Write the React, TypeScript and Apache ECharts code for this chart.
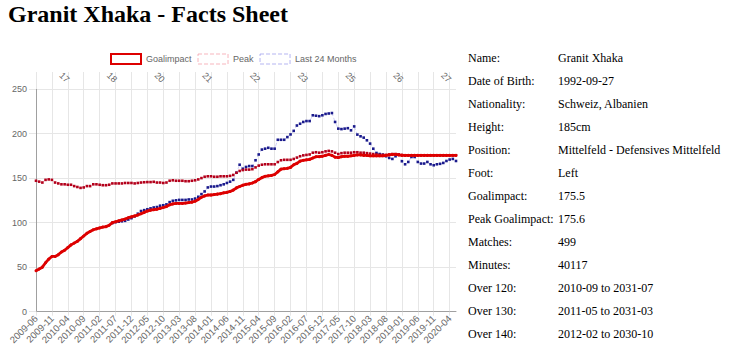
import React, { useEffect, useRef } from "react";
import * as echarts from "echarts";

// ---------- data ----------
const startYear = 2009;
const startMonth = 6; // 2009-06
const monthCount = 133;
const months: string[] = [];
for (let i = 0; i < monthCount; i++) {
  const m = startMonth - 1 + i;
  const y = startYear + Math.floor(m / 12);
  const mm = (m % 12) + 1;
  months.push(`${y}-${mm < 10 ? "0" + mm : mm}`);
}

const ageLabels = ["17", "18", "20", "21", "22", "23", "25", "26", "27"];
const ageLabelIndex = [10, 25, 40, 55, 70, 85, 100, 115, 130];

const goalimpact = [
  46, 48, 50, 55, 59, 62, 62, 64, 67, 69,
  72, 75, 77, 79, 82, 85, 88, 90, 92, 93,
  94, 95, 95.5, 97, 100, 101, 102, 103, 104, 105.5,
  106.5, 107.5, 108.5, 110, 111.5, 113, 114, 114.5, 115, 116,
  117, 118, 120, 121, 121.5, 121.5, 121.5, 122, 122.5, 123,
  124, 126, 128.5, 130, 131, 131, 131.5, 132, 132.5, 133.5,
  134, 135, 136.5, 139, 140.5, 142, 143, 143.5, 144.5, 146,
  148.5, 150.5, 152, 152.5, 153, 154, 157, 160, 160.5, 161,
  162, 165, 166.5, 169, 170, 170.5, 171, 172.5, 174, 174,
  174.5, 175.5, 176.5, 175.5, 173.5, 173, 174, 174.5, 174.5, 175,
  175.5, 176, 176, 175.5, 175.5, 175, 175, 175, 175, 175,
  175.5, 176, 176.5, 176.5, 176, 175.5, 175.5, 175.5, 175.5, 175.5,
  175.5, 175.5, 175.5, 175.5, 175.5, 175.5, 175.5, 175.5, 175.5, 175.5,
  175.5, 175.5, 175.5,
];

const peak = [
  147, 146, 145, 148, 148.5, 148, 145, 144, 143, 143,
  142.5, 142.5, 141, 140, 139, 139.5, 141, 141, 143, 143,
  142.5, 142, 142, 142.5, 144, 144, 144, 144, 144.5, 144.5,
  144.5, 144, 144.5, 145, 145.3, 145.5, 145.5, 145.8, 145, 145,
  144.5, 145, 147, 147.5, 147, 147, 147, 146.5, 146.5, 147,
  147.5, 148.5, 150, 151.5, 152, 152, 151.5, 151.5, 152, 152,
  152, 152.5, 153.5, 156, 158, 159, 159.5, 159.5, 160, 162,
  164, 165, 165.5, 165.5, 165.5, 165.5, 168, 170, 170.5, 170.5,
  170.5, 171.5, 173, 174.5, 175.5, 176, 176.5, 178.5, 179, 178.5,
  179, 180, 180.5, 180, 178.5, 177, 178, 178.5, 178.5, 178.5,
  179, 179, 178.5, 178.5, 178, 177.5, 177, 176.5, 176, 176,
  176, 176.5, 177, 177, 176.5, 176, 175.6, 175.6, 175.6, 175.6,
  175.6, 175.6, 175.6, 175.6, 175.6, 175.6, 175.6, 175.6, 175.6, 175.6,
  175.6, 175.6, 175.6,
];

const last24 = [
  null, null, null, null, null, null, null, null, null, null,
  null, null, null, null, null, null, null, null, null, null,
  null, null, null, null, 99.5, 100.5, 101, 101.5, 102, 103.5,
  105, 107, 110, 113, 114, 115, 116, 117, 117.5, 119,
  119.5, 120.5, 123, 124.5, 125, 125.5, 125.5, 125.5, 126, 126,
  127, 129, 132, 135, 139.5, 140.5, 140.5, 141, 142, 143,
  144.5, 146, 148, 156, 165, 160.5, 162.5, 163.5, 163.5, 170,
  176.5, 182, 183, 184, 183, 183, 193, 193, 193, 196,
  199, 203, 209, 211, 213, 214, 214, 220.5, 220, 219.5,
  220.5, 222, 222.5, 223, 213, 205.5, 205, 205.5, 206, 203.6,
  208, 198.8, 196.9, 195.4, 192.4, 188.7, 183, 178.2, 177, 176.4,
  174.5, 172.6, 171.5, 174.5, 176.4, 168.9, 165.5, 168.1, 173.7, 173.7,
  168.1, 166.3, 166.3, 168.1, 165.5, 164.4, 165.5, 166, 167, 169.2,
  170.8, 171.5, 169.2,
];

const factLabels = [
  "Name:", "Date of Birth:", "Nationality:", "Height:", "Position:", "Foot:",
  "Goalimpact:", "Peak Goalimpact:", "Matches:", "Minutes:", "Over 120:", "Over 130:", "Over 140:",
];
const factValues = [
  "Granit Xhaka", "1992-09-27", "Schweiz, Albanien", "185cm",
  "Mittelfeld - Defensives Mittelfeld", "Left", "175.5", "175.6", "499", "40117",
  "2010-09 to 2031-07", "2011-05 to 2031-03", "2012-02 to 2030-10",
];

const titleText = "Granit Xhaka - Facts Sheet";

// ---------- styles ----------
const SANS = "'Liberation Sans', Arial, sans-serif";
const SERIF = "'Liberation Serif', 'Times New Roman', serif";
const GRID_COLOR = "#e6e6e6";
const AXIS_COLOR = "#a0a0a0";
const LABEL_COLOR = "#666";

export default function App() {
  const ref = useRef<HTMLDivElement | null>(null);

  useEffect(() => {
    if (!ref.current) return;
    const chart = echarts.init(ref.current, undefined, { renderer: "svg" });

    const graphics: any[] = [
      {
        type: "text",
        left: 8,
        top: 2,
        style: {
          text: titleText,
          font: `bold 24px ${SERIF}`,
          fill: "#000",
        },
      },
    ];
    factLabels.forEach((lab, k) => {
      const y = 57.7 + 23.03 * k;
      graphics.push({
        type: "text",
        x: 468,
        y,
        style: { text: lab, font: `12px ${SERIF}`, fill: "#000", verticalAlign: "middle", align: "left" },
      });
      graphics.push({
        type: "text",
        x: 558,
        y,
        style: { text: factValues[k], font: `12px ${SERIF}`, fill: "#000", verticalAlign: "middle", align: "left" },
      });
    });

    chart.setOption({
      animation: false,
      backgroundColor: "#fff",
      textStyle: { fontFamily: SANS },
      legend: {
        left: 110,
        top: 53,
        padding: 0,
        icon: "rect",
        itemWidth: 30,
        itemHeight: 10,
        itemGap: 6,
        textStyle: { fontSize: 9, color: LABEL_COLOR, fontFamily: SANS },
        data: [
          { name: "Goalimpact", itemStyle: { color: "#fff", borderColor: "#dd0000", borderWidth: 2 } },
          { name: "Peak", itemStyle: { color: "#fff", borderColor: "rgba(240,120,135,0.55)", borderWidth: 1, borderType: "dashed" } },
          { name: "Last 24 Months", itemStyle: { color: "#fff", borderColor: "rgba(120,120,230,0.55)", borderWidth: 1, borderType: "dashed" } },
        ],
      },
      grid: { left: 36, right: 274, top: 89, bottom: 44.3, containLabel: false },
      xAxis: [
        {
          type: "category",
          data: months,
          boundaryGap: false,
          position: "bottom",
          axisLine: { lineStyle: { color: AXIS_COLOR, width: 1 } },
          axisTick: { show: true, interval: 4, length: 4, lineStyle: { color: GRID_COLOR } },
          axisLabel: { interval: 4, rotate: 45, fontSize: 9.5, color: LABEL_COLOR, margin: 5, fontFamily: SANS },
          splitLine: { show: true, interval: 4, lineStyle: { color: GRID_COLOR } },
        },
        {
          type: "category",
          data: months,
          boundaryGap: false,
          position: "top",
          axisLine: { show: false },
          axisTick: { show: true, interval: 4, length: 17, lineStyle: { color: GRID_COLOR } },
          axisLabel: {
            interval: (index: number) => ageLabelIndex.indexOf(index) >= 0,
            formatter: (_v: string, index: number) => {
              const k = ageLabelIndex.indexOf(index);
              return k >= 0 ? ageLabels[k] : "";
            },
            rotate: 45,
            fontSize: 9,
            color: LABEL_COLOR,
            margin: 8,
            fontFamily: SANS,
          },
          splitLine: { show: false },
        },
      ],
      yAxis: {
        type: "value",
        min: 0,
        max: 250,
        interval: 50,
        axisLine: { show: true, lineStyle: { color: AXIS_COLOR } },
        axisTick: { show: true, length: 7, lineStyle: { color: GRID_COLOR } },
        axisLabel: { fontSize: 9, color: LABEL_COLOR, margin: 9, fontFamily: SANS },
        splitLine: { show: true, lineStyle: { color: GRID_COLOR } },
      },
      series: [
        {
          name: "Last 24 Months",
          type: "line",
          data: last24,
          symbol: "rect",
          symbolSize: 2.6,
          showSymbol: true,
          showAllSymbol: true,
          itemStyle: { color: "#1a1a8c" },
          lineStyle: { color: "rgba(120,120,230,0.35)", width: 1, type: "dashed" },
          z: 2,
        },
        {
          name: "Peak",
          type: "line",
          data: peak,
          symbol: "rect",
          symbolSize: 2.6,
          showSymbol: true,
          showAllSymbol: true,
          itemStyle: { color: "#b3001b" },
          lineStyle: { color: "rgba(240,120,135,0.35)", width: 1, type: "dashed" },
          z: 3,
        },
        {
          name: "Goalimpact",
          type: "line",
          data: goalimpact,
          symbol: "circle",
          symbolSize: 3,
          showSymbol: true,
          showAllSymbol: true,
          itemStyle: { color: "#dd0000" },
          lineStyle: { color: "#dd0000", width: 2.8 },
          z: 4,
        },
      ],
      graphic: graphics,
    });

    return () => chart.dispose();
  }, []);

  return (
    <div
      ref={ref}
      style={{ position: "absolute", left: 0, top: 0, width: 730, height: 356 }}
    />
  );
}
